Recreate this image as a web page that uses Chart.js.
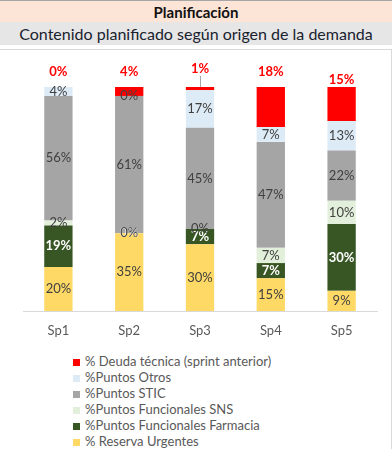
<!DOCTYPE html>
<html><head><meta charset="utf-8">
<script src="https://cdn.jsdelivr.net/npm/chart.js@4.4.1/dist/chart.umd.min.js"></script>
<style>
html,body{margin:0;padding:0;background:#fff;width:392px;height:449px;overflow:hidden;font-family:Lato,"Open Sans",sans-serif;}
#topline{position:absolute;left:0;top:0;width:392px;height:1px;background:#a6a6a6;}
#t1{position:absolute;left:0;top:1px;width:392px;height:21px;background:#FCE4D6;text-align:center;font-weight:bold;font-size:15px;line-height:22px;color:#111;}
#t2{position:absolute;left:0;top:22px;width:392px;height:23px;background:#E7E6E6;text-align:center;font-size:16px;line-height:24px;color:#18222e;}
#box{position:absolute;left:-1px;top:49px;width:391px;height:420px;border:1px solid #d9d9d9;}
#cwrap{position:absolute;left:0;top:50px;width:391px;height:300px;}
#legend{position:absolute;left:73px;top:353px;font-size:13px;color:#595959;}
.li{height:16px;line-height:16px;white-space:nowrap;}
.sw{display:inline-block;width:7px;height:7px;margin-right:5px;vertical-align:0px;}
</style></head>
<body>
<div id="topline"></div>
<div id="t1">Planificación</div>
<div id="t2">Contenido planificado según origen de la demanda</div>
<div id="box"></div>
<div id="cwrap"><canvas id="c"></canvas></div>
<div id="legend"></div>
<script>
const categories = ["Sp1","Sp2","Sp3","Sp4","Sp5"];
const reservaUrgentes   = [19.6, 34.7, 29.8, 14.6, 9.0];
const funcFarmacia      = [18.6, 0, 6.8, 6.8, 29.8];
const funcSNS           = [2.2, 0, 0, 6.8, 10.4];
const puntosSTIC        = [55.6, 61.3, 45.2, 47.3, 22.4];
const puntosOtros       = [4.0, 0, 16.8, 6.6, 13.2];
const deudaTecnica      = [0, 4.0, 1.4, 17.9, 15.2];
const seriesNames = ["% Reserva Urgentes","%Puntos Funcionales Farmacia","%Puntos Funcionales SNS","%Puntos STIC","%Puntos Otros","% Deuda técnica (sprint anterior)"];
const seriesColors = ["#FFD966","#375623","#E2EFDA","#A5A5A5","#DDEBF7","#FF0000"];
const seriesData = [reservaUrgentes, funcFarmacia, funcSNS, puntosSTIC, puntosOtros, deudaTecnica];

const labelPlugin = {
  id:'barLabels',
  afterDatasetsDraw(chart){
    const ctx = chart.ctx;
    ctx.save();
    ctx.textAlign='center';
    ctx.textBaseline='middle';
    const redShift=[0,0,-3,0,8];
    chart.data.datasets.forEach((ds,di)=>{
      const meta = chart.getDatasetMeta(di);
      meta.data.forEach((el,i)=>{
        const v = ds.data[i];
        const txt = Math.round(v)+'%';
        if(di===5){
          ctx.font='bold 13px Lato';
          ctx.fillStyle='#FF0000';
          const y = el.y - 15 + redShift[i];
          if(redShift[i]<0){
            ctx.strokeStyle='#a6a6a6';ctx.lineWidth=1;
            ctx.beginPath();ctx.moveTo(Math.round(el.x)+0.5,y+7);ctx.lineTo(Math.round(el.x)+0.5,el.y);ctx.stroke();
          }
          ctx.fillText(txt, el.x, y);
        } else if(di===1){
          ctx.font='bold 13px Lato';
          ctx.fillStyle='#FFFFFF';
          ctx.fillText(txt, el.x, (el.y+el.base)/2);
        } else {
          ctx.font='13px Lato';
          ctx.fillStyle='#404040';
          ctx.fillText(txt, el.x, (el.y+el.base)/2);
        }
      });
    });
    ctx.restore();
  }
};

new Chart(document.getElementById('c'),{
  type:'bar',
  data:{
    labels:categories,
    datasets:seriesData.map((d,i)=>({label:seriesNames[i],data:d,backgroundColor:seriesColors[i],borderWidth:0,barPercentage:1,categoryPercentage:0.4}))
  },
  options:{
    responsive:true,maintainAspectRatio:false,animation:false,
    layout:{padding:{left:23,right:14,top:37,bottom:0}},
    plugins:{legend:{display:false},tooltip:{enabled:false}},
    scales:{
      x:{stacked:true,grid:{display:false,drawTicks:false},border:{display:true,color:'#d9d9d9',width:1},
         ticks:{color:'#595959',font:{family:'Lato',size:13},padding:12},
         afterFit(s){s.height=39;}},
      y:{stacked:true,display:false,min:0,max:100}
    }
  },
  plugins:[labelPlugin]
});

const lg=document.getElementById('legend');
for(let i=seriesNames.length-1;i>=0;i--){
  const d=document.createElement('div');d.className='li';
  const s=document.createElement('span');s.className='sw';s.style.background=seriesColors[i];
  d.appendChild(s);d.appendChild(document.createTextNode(seriesNames[i]));lg.appendChild(d);
}
</script>
</body></html>
